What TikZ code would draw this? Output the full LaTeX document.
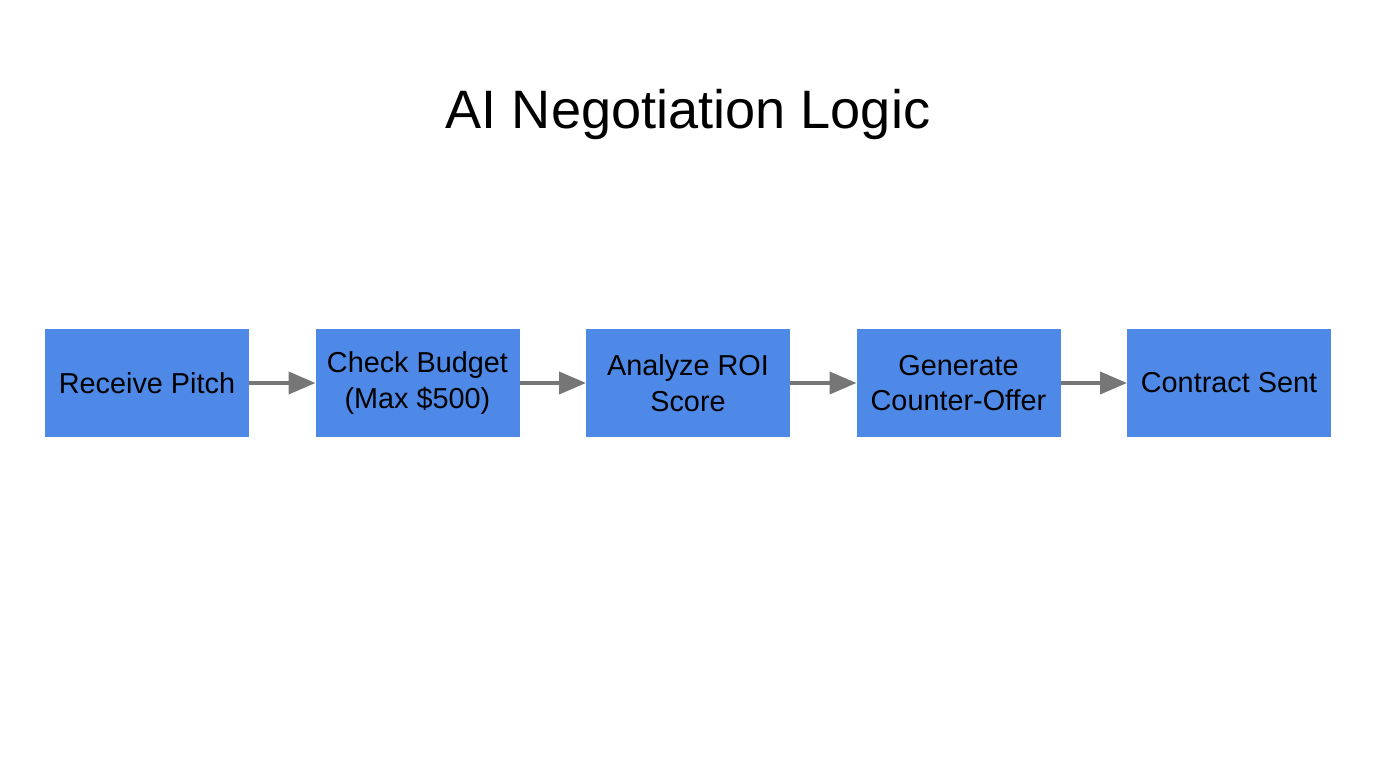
\documentclass[tikz,border=0pt]{standalone}
\usepackage{fontspec}
\setmainfont{Liberation Sans}
\usetikzlibrary{positioning,arrows.meta}

\definecolor{stepblue}{HTML}{4E89E8}
\definecolor{arrowgray}{HTML}{767676}

\begin{document}
\begin{tikzpicture}[
    stepbox/.style={draw=none, fill=stepblue, minimum width=2.04cm, minimum height=1.08cm,
        inner sep=0pt, outer sep=0pt, align=center, font=\fontsize{8.2}{10.1}\selectfont},
    flow/.style={draw=arrowgray, line width=1.15pt, -{Triangle[length=0.27cm, width=0.22cm]}}
]
    \useasboundingbox (0,0) rectangle (13.76,-7.68);
    \node[anchor=base, font=\fontsize{15.4}{18}\selectfont] (title) at (6.88,-1.29) {AI Negotiation Logic};
    \node[stepbox] (pitch) at (1.47,-3.83) {Receive Pitch};
    \node[stepbox, right=0.665cm of pitch] (budget) {Check Budget\\(Max \$500)};
    \node[stepbox, right=0.665cm of budget] (roi) {Analyze ROI\\Score};
    \node[stepbox, right=0.665cm of roi] (counter) {Generate\\Counter-Offer};
    \node[stepbox, right=0.665cm of counter] (contract) {Contract Sent};
    \foreach \a/\b in {pitch/budget, budget/roi, roi/counter, counter/contract}
        \draw[flow] (\a) -- (\b);
\end{tikzpicture}
\end{document}
